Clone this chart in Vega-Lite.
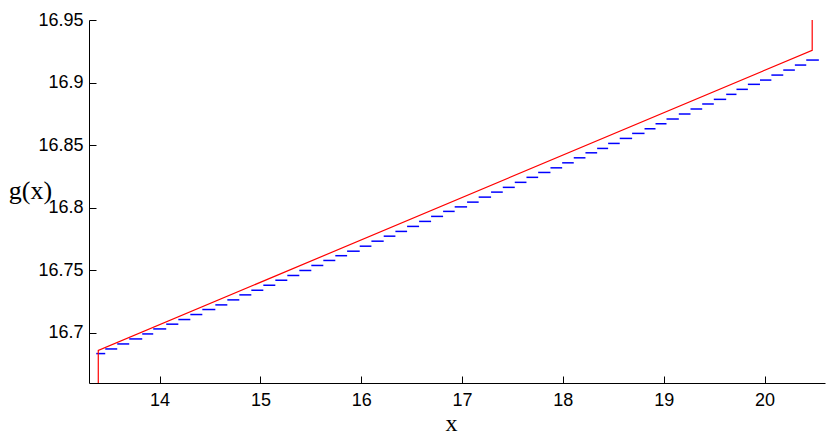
{
  "$schema": "https://vega.github.io/schema/vega-lite/v6.json",
  "autosize": "none",
  "width": 736,
  "height": 363,
  "padding": {"left": 89, "top": 20, "right": 6, "bottom": 51},
  "background": "white",
  "config": {
    "view": {"stroke": null},
    "axis": {
      "grid": false,
      "domainColor": "#000000",
      "domainWidth": 1,
      "tickColor": "#000000",
      "tickWidth": 1,
      "labelColor": "#000000",
      "labelFont": "Liberation Sans",
      "labelFontSize": 18,
      "titleColor": "#000000",
      "titleFont": "Liberation Serif",
      "titleFontWeight": "normal",
      "titleFontSize": 26
    }
  },
  "datasets": {
    "steps": [
      {"x": 13.372, "x2": 13.461, "y": 16.6835},
      {"x": 13.461, "x2": 13.580, "y": 16.6872},
      {"x": 13.580, "x2": 13.699, "y": 16.6912},
      {"x": 13.699, "x2": 13.828, "y": 16.6952},
      {"x": 13.828, "x2": 13.937, "y": 16.6992},
      {"x": 13.937, "x2": 14.066, "y": 16.7032},
      {"x": 14.066, "x2": 14.186, "y": 16.7070},
      {"x": 14.186, "x2": 14.305, "y": 16.7107},
      {"x": 14.305, "x2": 14.424, "y": 16.7147},
      {"x": 14.424, "x2": 14.553, "y": 16.7187},
      {"x": 14.553, "x2": 14.672, "y": 16.7224},
      {"x": 14.672, "x2": 14.791, "y": 16.7264},
      {"x": 14.791, "x2": 14.910, "y": 16.7304},
      {"x": 14.910, "x2": 15.029, "y": 16.7341},
      {"x": 15.029, "x2": 15.148, "y": 16.7381},
      {"x": 15.148, "x2": 15.267, "y": 16.7421},
      {"x": 15.267, "x2": 15.386, "y": 16.7459},
      {"x": 15.386, "x2": 15.505, "y": 16.7499},
      {"x": 15.505, "x2": 15.624, "y": 16.7539},
      {"x": 15.624, "x2": 15.743, "y": 16.7579},
      {"x": 15.743, "x2": 15.860, "y": 16.7617},
      {"x": 15.860, "x2": 15.985, "y": 16.7653},
      {"x": 15.985, "x2": 16.101, "y": 16.7693},
      {"x": 16.101, "x2": 16.223, "y": 16.7733},
      {"x": 16.223, "x2": 16.339, "y": 16.7773},
      {"x": 16.339, "x2": 16.455, "y": 16.7811},
      {"x": 16.455, "x2": 16.574, "y": 16.7851},
      {"x": 16.574, "x2": 16.693, "y": 16.7891},
      {"x": 16.693, "x2": 16.812, "y": 16.7931},
      {"x": 16.812, "x2": 16.927, "y": 16.7971},
      {"x": 16.927, "x2": 17.050, "y": 16.8007},
      {"x": 17.050, "x2": 17.165, "y": 16.8045},
      {"x": 17.165, "x2": 17.288, "y": 16.8085},
      {"x": 17.288, "x2": 17.404, "y": 16.8125},
      {"x": 17.404, "x2": 17.523, "y": 16.8163},
      {"x": 17.523, "x2": 17.639, "y": 16.8203},
      {"x": 17.639, "x2": 17.755, "y": 16.8243},
      {"x": 17.755, "x2": 17.877, "y": 16.8282},
      {"x": 17.877, "x2": 17.993, "y": 16.8319},
      {"x": 17.993, "x2": 18.108, "y": 16.8359},
      {"x": 18.108, "x2": 18.224, "y": 16.8399},
      {"x": 18.224, "x2": 18.340, "y": 16.8439},
      {"x": 18.340, "x2": 18.449, "y": 16.8474},
      {"x": 18.449, "x2": 18.564, "y": 16.8514},
      {"x": 18.564, "x2": 18.687, "y": 16.8554},
      {"x": 18.687, "x2": 18.810, "y": 16.8594},
      {"x": 18.810, "x2": 18.919, "y": 16.8631},
      {"x": 18.919, "x2": 19.028, "y": 16.8671},
      {"x": 19.028, "x2": 19.150, "y": 16.8709},
      {"x": 19.150, "x2": 19.266, "y": 16.8749},
      {"x": 19.266, "x2": 19.382, "y": 16.8789},
      {"x": 19.382, "x2": 19.497, "y": 16.8829},
      {"x": 19.497, "x2": 19.620, "y": 16.8866},
      {"x": 19.620, "x2": 19.722, "y": 16.8906},
      {"x": 19.722, "x2": 19.835, "y": 16.8946},
      {"x": 19.835, "x2": 19.955, "y": 16.8986},
      {"x": 19.955, "x2": 20.068, "y": 16.9020},
      {"x": 20.068, "x2": 20.186, "y": 16.9060},
      {"x": 20.186, "x2": 20.301, "y": 16.9100},
      {"x": 20.301, "x2": 20.414, "y": 16.9140},
      {"x": 20.414, "x2": 20.539, "y": 16.9180}
    ],
    "bound": [
      {"o": 0, "x": 13.392, "y": 16.66},
      {"o": 1, "x": 13.392, "y": 16.686},
      {"o": 2, "x": 20.473, "y": 16.9258},
      {"o": 3, "x": 20.473, "y": 16.95}
    ]
  },
  "encoding": {
    "x": {
      "field": "x",
      "type": "quantitative",
      "scale": {"domain": [13.3, 20.6], "nice": false, "zero": false},
      "axis": {
        "values": [14, 15, 16, 17, 18, 19, 20],
        "format": "d",
        "tickSize": -7,
        "labelPadding": 15,
        "title": "x",
        "titleFontSize": 24,
        "titleX": 362,
        "titleY": 47,
        "titleAlign": "center",
        "titleBaseline": "alphabetic"
      }
    },
    "y": {
      "field": "y",
      "type": "quantitative",
      "scale": {"domain": [16.66, 16.95], "nice": false, "zero": false},
      "axis": {
        "values": [16.7, 16.75, 16.8, 16.85, 16.9, 16.95],
        "format": "~g",
        "tickSize": -7,
        "labelPadding": 13,
        "title": "g(x)",
        "titleAngle": 0,
        "titleX": -59,
        "titleY": 178,
        "titleAlign": "center",
        "titleBaseline": "alphabetic"
      }
    }
  },
  "layer": [
    {
      "data": {"name": "steps"},
      "mark": {"type": "rule", "color": "#0000ff", "strokeWidth": 1.5},
      "encoding": {"x2": {"field": "x2"}}
    },
    {
      "data": {"name": "bound"},
      "mark": {"type": "line", "color": "#ff0000", "strokeWidth": 1.2},
      "encoding": {"order": {"field": "o", "type": "quantitative"}}
    }
  ]
}
